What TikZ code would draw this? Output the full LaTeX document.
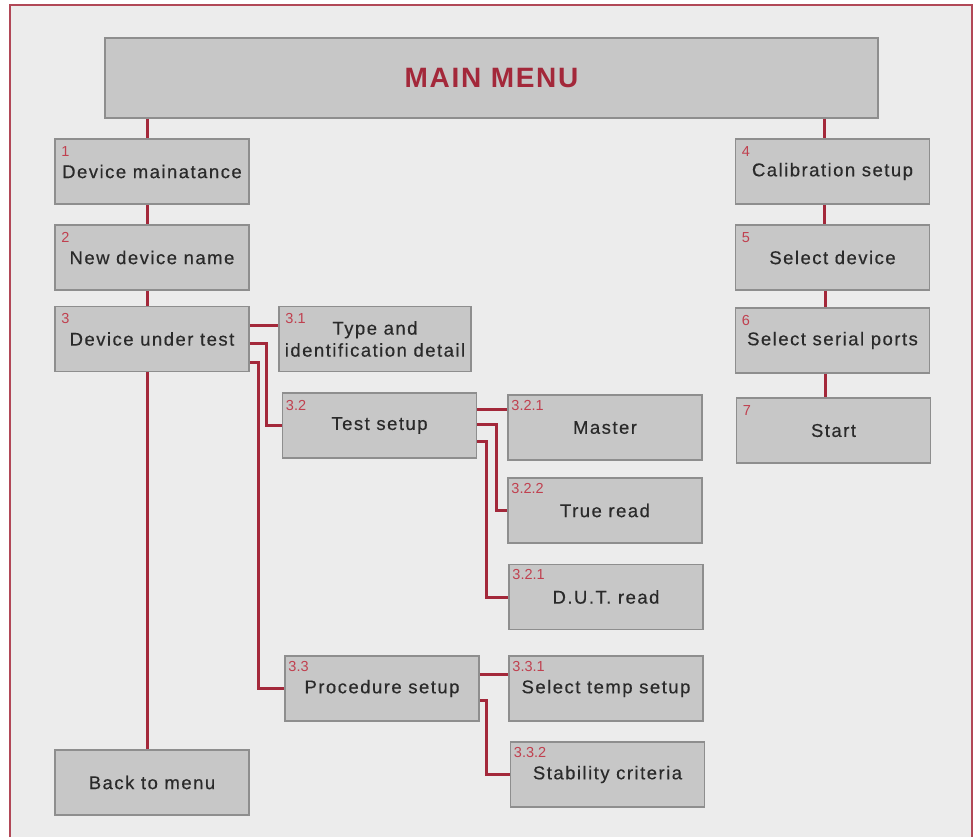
\documentclass[tikz,border=0pt]{standalone}
\usepackage{fontspec}
\usepackage{tikz}
\newfontfamily\boxfont{Liberation Sans}[LetterSpace=8, FakeBold=0.4]
\newfontfamily\titlefont{Liberation Sans}[LetterSpace=6]
\newfontfamily\numfont{Liberation Sans}
\definecolor{menured}{HTML}{A3283A}
\definecolor{numred}{HTML}{C0404F}
\definecolor{boxfill}{HTML}{C7C7C7}
\definecolor{boxline}{HTML}{8E8E8E}
\definecolor{paper}{HTML}{ECECEC}
\definecolor{ink}{HTML}{2A2A2A}
\begin{document}
\begin{tikzpicture}[x=1pt, y=-1pt, menubox/.style={draw=boxline, fill=boxfill, line width=1.5pt, minimum width=194pt, minimum height=65pt, inner sep=0pt, text=ink, font=\boxfont\fontsize{18.5}{22}\selectfont, align=center}, numlabel/.style={anchor=base west, inner sep=0pt, text=numred, font=\numfont\fontsize{14.5}{14.5}\selectfont}, link/.style={draw=menured, line width=3pt}]

\useasboundingbox (0,0) rectangle (973,837); 
\fill[white] (0,0) rectangle (973,837); 
\fill[paper] (10,5) rectangle (972,837); 
\draw[menured!85!white, line width=2pt] (10,837) -- (10,5) -- (972,5) -- (972,837); 

\node[menubox, minimum width=773pt, minimum height=80pt, text=menured, font=\titlefont\bfseries\fontsize{28}{28}\selectfont] (main) at (491.5,78) {MAIN MENU}; 

\node[menubox] (maint) at (152,171.5) {Device mainatance}; 
\node[menubox] (newname) at (152,257.5) {New device name}; 
\node[menubox] (dut) at (152,339) {Device under test}; 
\node[menubox] (back) at (152,782.5) {Back to menu}; 
\node[menubox, minimum width=192pt] (typeid) at (375,339) {Type and\\identification detail}; 
\node[menubox] (testsetup) at (379.5,425.5) {Test setup}; 
\node[menubox] (master) at (605,427.5) {Master}; 
\node[menubox] (trueread) at (605,510.5) {True read}; 
\node[menubox] (dutread) at (606,597) {D.U.T. read}; 
\node[menubox] (procsetup) at (382,688.5) {Procedure setup}; 
\node[menubox] (tempsetup) at (606,688.5) {Select temp setup}; 
\node[menubox] (stability) at (607.5,774.5) {Stability criteria}; 
\node[menubox] (calib) at (832.5,171.5) {Calibration setup}; 
\node[menubox] (seldev) at (832.5,257.5) {Select device}; 
\node[menubox] (serports) at (832.5,340.5) {Select serial ports}; 
\node[menubox] (start) at (833.5,430.5) {Start}; 

\node[numlabel] (maintnum) at ([xshift=7pt,yshift=-18pt]maint.north west) {1}; 
\node[numlabel] (newnamenum) at ([xshift=7pt,yshift=-18pt]newname.north west) {2}; 
\node[numlabel] (dutnum) at ([xshift=7pt,yshift=-18pt]dut.north west) {3}; 
\node[numlabel] (typeidnum) at ([xshift=7pt,yshift=-18pt]typeid.north west) {3.1}; 
\node[numlabel] (testsetupnum) at ([xshift=4pt,yshift=-18pt]testsetup.north west) {3.2}; 
\node[numlabel] (masternum) at ([xshift=4pt,yshift=-16pt]master.north west) {3.2.1}; 
\node[numlabel] (truereadnum) at ([xshift=4pt,yshift=-16pt]trueread.north west) {3.2.2}; 
\node[numlabel] (dutreadnum) at ([xshift=4pt,yshift=-16pt]dutread.north west) {3.2.1}; 
\node[numlabel] (procsetupnum) at ([xshift=4pt,yshift=-16pt]procsetup.north west) {3.3}; 
\node[numlabel] (tempsetupnum) at ([xshift=4pt,yshift=-16pt]tempsetup.north west) {3.3.1}; 
\node[numlabel] (stabilitynum) at ([xshift=4pt,yshift=-16pt]stability.north west) {3.3.2}; 
\node[numlabel] (calibnum) at ([xshift=7pt,yshift=-18pt]calib.north west) {4}; 
\node[numlabel] (seldevnum) at ([xshift=7pt,yshift=-18pt]seldev.north west) {5}; 
\node[numlabel] (serportsnum) at ([xshift=7pt,yshift=-18pt]serports.north west) {6}; 
\node[numlabel] (startnum) at ([xshift=7pt,yshift=-18pt]start.north west) {7}; 

\draw[link] ([xshift=-5pt]maint.north |- main.south) -- ([xshift=-5pt]maint.north); 
\draw[link] ([xshift=-5pt]maint.south) -- ([xshift=-5pt]newname.north); 
\draw[link] ([xshift=-5pt]newname.south) -- ([xshift=-5pt]dut.north); 
\draw[link] ([xshift=-5pt]dut.south) -- ([xshift=-5pt]back.north); 
\draw[link] ([xshift=-8pt]calib.north |- main.south) -- ([xshift=-8pt]calib.north); 
\draw[link] ([xshift=-8pt]calib.south) -- ([xshift=-8pt]seldev.north); 
\draw[link] ([xshift=-7pt]seldev.south) -- ([xshift=-7pt]seldev.south |- serports.north); 
\draw[link] ([xshift=-7pt]serports.south) -- ([xshift=-7pt]serports.south |- start.north); 

\draw[link] ([yshift=14pt]dut.east) -- ([yshift=14pt]dut.east -| typeid.west); 
\draw[link] ([yshift=-4pt]dut.east) -| ([xshift=-15pt]testsetup.west) -- (testsetup.west); 
\draw[link] ([yshift=-23pt]dut.east) -| ([xshift=-26pt]procsetup.west) -- (procsetup.west); 
\draw[link] ([yshift=16.5pt]testsetup.east) -- ([yshift=16.5pt]testsetup.east -| master.west); 
\draw[link] ([yshift=1.5pt]testsetup.east) -| ([xshift=-11pt]trueread.west) -- (trueread.west); 
\draw[link] ([yshift=-15.5pt]testsetup.east) -| ([xshift=-22pt]dutread.west) -- (dutread.west); 
\draw[link] ([yshift=14.5pt]procsetup.east) -- ([yshift=14.5pt]procsetup.east -| tempsetup.west); 
\draw[link] ([yshift=-11.5pt]procsetup.east) -| ([xshift=-23pt]stability.west) -- (stability.west); 

\end{tikzpicture}
\end{document}
